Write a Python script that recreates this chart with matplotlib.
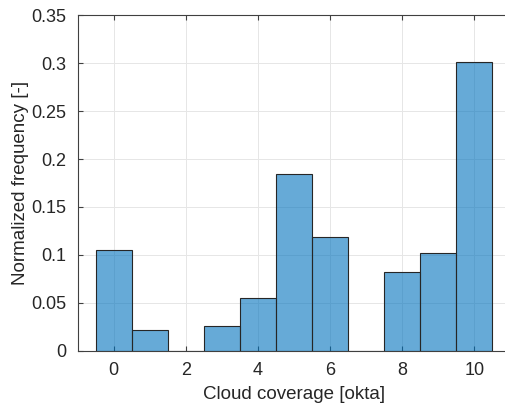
import matplotlib.pyplot as plt

plt.rcParams['font.family'] = ['Liberation Sans', 'DejaVu Sans']

okta = [0, 1, 2, 3, 4, 5, 6, 7, 8, 9, 10]
freq = [0.105, 0.022, 0.0, 0.026, 0.055, 0.184, 0.119, 0.0, 0.082, 0.102, 0.301]
xticks = [0, 2, 4, 6, 8, 10]
yticks = [0, 0.05, 0.1, 0.15, 0.2, 0.25, 0.3, 0.35]
ytick_labels = ['0', '0.05', '0.1', '0.15', '0.2', '0.25', '0.3', '0.35']

fig = plt.figure(figsize=(5.05, 4.08), dpi=100)
ax = fig.add_axes([0.1535, 0.14, 0.857, 0.823])

ax.bar(okta, freq, width=1.0, color=(0, 0.447, 0.741, 0.6),
       edgecolor='#262626', linewidth=0.8, zorder=3)

ax.set_xlim(-1, 11)
ax.set_ylim(0, 0.35)
ax.set_xticks(xticks)
ax.set_yticks(yticks)
ax.set_yticklabels(ytick_labels)
ax.grid(True, color='#e6e6e6', linewidth=0.7, zorder=0)
ax.set_axisbelow(True)

for s in ax.spines.values():
    s.set_color('#404040')
    s.set_linewidth(0.8)
ax.tick_params(direction='in', top=True, right=True, length=3.5, width=0.8,
               colors='#404040', labelcolor='#262626', labelsize=13, pad=8)

ax.set_xlabel('Cloud coverage [okta]', fontsize=13.5, color='#262626', labelpad=5)
ax.set_ylabel('Normalized frequency [-]', fontsize=13.5, color='#262626', labelpad=2)

fig.savefig('out.png', dpi=100)
